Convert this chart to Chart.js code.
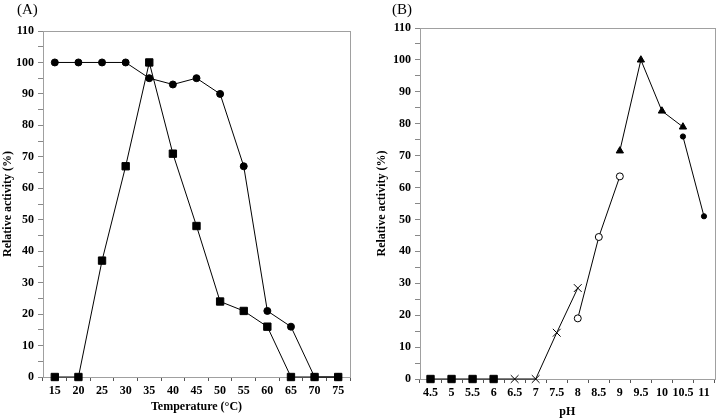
<!DOCTYPE html>
<html>
<head>
<meta charset="utf-8">
<script src="https://cdn.jsdelivr.net/npm/chart.js@4"></script>
<style>
  html, body { margin: 0; padding: 0; background: #fff; }
  #wrap { position: relative; width: 721px; height: 419px; overflow: hidden; }
  .panel { position: absolute; top: 0; }
  .tag { position: absolute; top: 1px; font: 15px "Liberation Serif", "Times New Roman", serif; color: #000; line-height: 16px; }
</style>
</head>
<body>
<div id="wrap">
  <canvas id="tempChart" class="panel" width="358" height="419" style="left:0"></canvas>
  <canvas id="phChart" class="panel" width="363" height="419" style="left:358px"></canvas>
  <div class="tag" style="left:17px">(A)</div>
  <div class="tag" style="left:392px">(B)</div>
</div>
<script>
// (A) temperature profile
const tempLabels = ['15', '20', '25', '30', '35', '40', '45', '50', '55', '60', '65', '70', '75'];
const tempCircles = [100, 100, 100, 100, 95, 93, 95, 90, 67, 21, 16, 0, 0];
const tempSquares = [0, 0, 37, 67, 100, 71, 48, 24, 21, 16, 0, 0, 0];

// (B) pH profile, one array per buffer
const phLabels = ['4.5', '5', '5.5', '6', '6.5', '7', '7.5', '8', '8.5', '9', '9.5', '10', '10.5', '11'];
const phSquares = [0, 0, 0, 0, null, null, null, null, null, null, null, null, null, null];
const phCrosses = [null, null, null, 0, 0, 0, 14.5, 28.5, null, null, null, null, null, null];
const phOpen = [null, null, null, null, null, null, null, 19, 44.5, 63.5, null, null, null, null];
const phTriangles = [null, null, null, null, null, null, null, null, null, 71.5, 100, 84, 79, null];
const phDots = [null, null, null, null, null, null, null, null, null, null, null, null, 76, 51];

const yTicks = [0, 10, 20, 30, 40, 50, 60, 70, 80, 90, 100, 110];

Chart.defaults.font.family = '"Liberation Serif", "Times New Roman", serif';
Chart.defaults.color = '#000';

// gray frame around the plot area
const frame = {
    id: 'frame',
    beforeDatasetsDraw(chart) {
        const a = chart.chartArea;
        const ctx = chart.ctx;
        ctx.save();
        ctx.strokeStyle = '#a0a0a0';
        ctx.lineWidth = 1;
        ctx.strokeRect(Math.round(a.left) + 0.5, Math.round(a.top) + 0.5, Math.round(a.right - a.left), Math.round(a.bottom - a.top));
        ctx.restore();
    }
};

function scales(xTitle, yWidth, xHeight, yTitlePad, xTitlePad) {
    return {
        x: {
            type: 'category',
            offset: true,
            grid: { display: true, drawOnChartArea: false, offset: true, tickLength: 4, color: '#555' },
            border: { color: '#555', width: 1 },
            ticks: { font: { size: 12, weight: 'bold' }, padding: 3, maxRotation: 0, autoSkip: false },
            title: { display: true, text: xTitle, font: { size: 12, weight: 'bold' }, padding: { top: 0, bottom: xTitlePad } },
            afterFit(s) { s.height = xHeight; }
        },
        y: {
            min: 0,
            max: 110,
            grid: { display: true, drawOnChartArea: false, tickLength: 5, color: '#888' },
            border: { color: '#888', width: 1 },
            ticks: {
                stepSize: 5,
                autoSkip: false,
                padding: 4,
                font: { size: 12, weight: 'bold' },
                callback: v => yTicks.includes(v) ? v : ''
            },
            title: { display: true, text: 'Relative activity (%)', font: { size: 12, weight: 'bold' }, padding: { top: yTitlePad, bottom: 0 } },
            afterFit(s) { s.width = yWidth; }
        }
    };
}

function series(data, style, radius, fill) {
    return {
        data: data,
        clip: false,
        borderColor: '#000',
        borderWidth: 1,
        pointStyle: style,
        pointRadius: radius,
        pointHoverRadius: radius,
        pointBackgroundColor: fill,
        pointBorderColor: '#000',
        pointBorderWidth: 1,
        spanGaps: false,
        tension: 0
    };
}

new Chart(document.getElementById('tempChart'), {
    type: 'line',
    data: {
        labels: tempLabels,
        datasets: [
            series(tempSquares, 'rect', 5.2, '#000'),
            series(tempCircles, 'circle', 3.5, '#000')
        ]
    },
    options: {
        responsive: false,
        animation: false,
        layout: { padding: { top: 31, right: 8, bottom: 0, left: 0 } },
        plugins: { legend: { display: false }, tooltip: { enabled: false } },
        scales: scales('Temperature (°C)', 43, 42, 1, 5)
    },
    plugins: [frame]
});

const crossSet = series(phCrosses, 'crossRot', 5.5, '#000');
crossSet.pointRadius = ctx => ctx.dataIndex === 3 ? 0 : 5.5;

new Chart(document.getElementById('phChart'), {
    type: 'line',
    data: {
        labels: phLabels,
        datasets: [
            series(phSquares, 'rect', 5.2, '#000'),
            crossSet,
            series(phOpen, 'circle', 3.5, '#fff'),
            series(phTriangles, 'triangle', 4.2, '#000'),
            series(phDots, 'circle', 2.6, '#000')
        ]
    },
    options: {
        responsive: false,
        animation: false,
        layout: { padding: { top: 28, right: 3, bottom: 0, left: 0 } },
        plugins: { legend: { display: false }, tooltip: { enabled: false } },
        scales: scales('pH', 62, 40, 17, 0)
    },
    plugins: [frame]
});
</script>
</body>
</html>
